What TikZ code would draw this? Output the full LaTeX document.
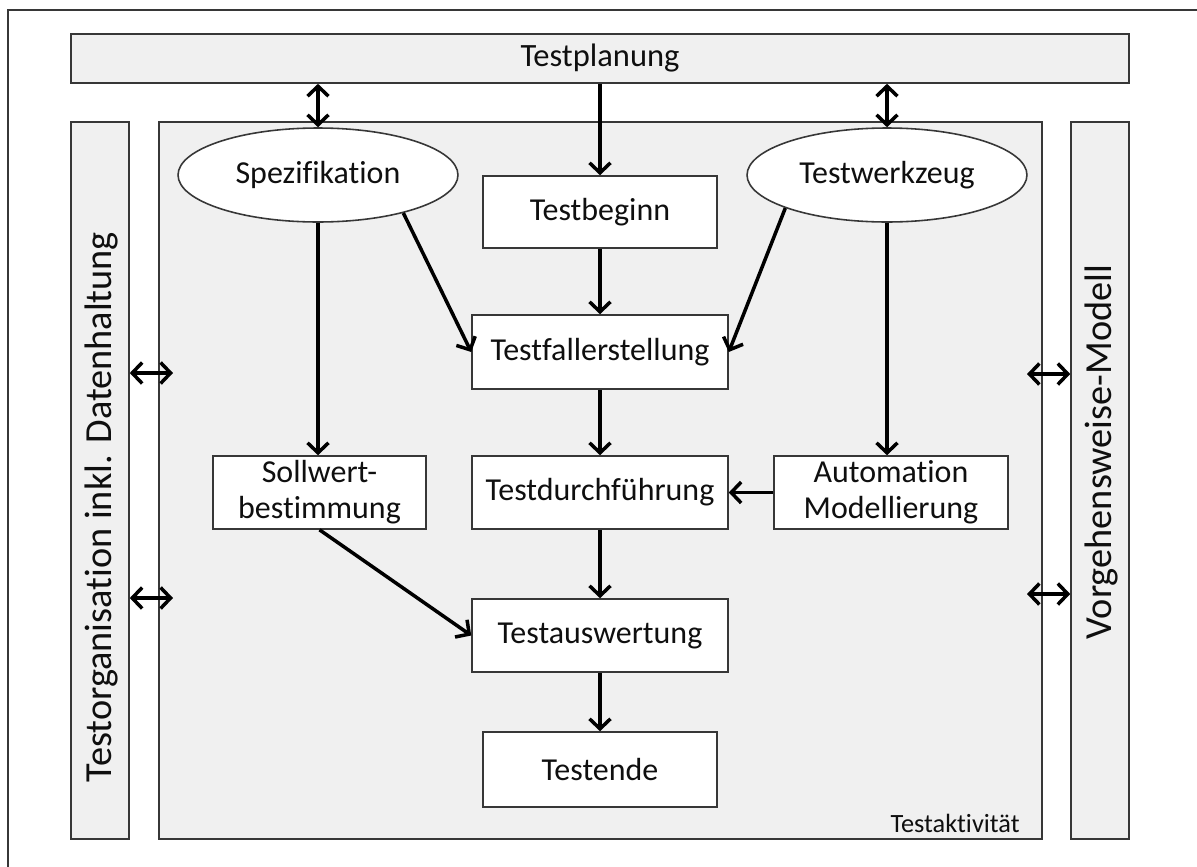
\documentclass[tikz,border=0pt]{standalone}
\usepackage{fontspec}
\setmainfont{Carlito}[Ligatures=NoCommon]
\usetikzlibrary{arrows.meta,shapes.geometric}
\definecolor{panel}{RGB}{240,240,240}
\definecolor{edge}{RGB}{55,55,55}
\definecolor{ink}{RGB}{15,15,15}
\begin{document}
\begin{tikzpicture}[x=0.02cm,y=-0.02cm,
  every node/.style={text=ink,inner sep=0pt},
  panelbox/.style={draw=edge,line width=0.9pt,fill=panel},
  stepbox/.style={draw=edge,line width=0.9pt,fill=white,font=\fontsize{18.2}{20.5}\selectfont,align=center},
  oval/.style={ellipse,draw=edge,line width=0.9pt,fill=white,font=\fontsize{18.2}{20.5}\selectfont,minimum width=5.6cm,minimum height=1.88cm},
  tip/.style={Straight Barb[length=0.2cm,width=0.42cm,line width=2pt]},
  flow/.style={draw=black,line width=2pt,-{Straight Barb[length=0.2cm,width=0.42cm,line width=2pt]}},
  both/.style={draw=black,line width=2pt,{Straight Barb[length=0.2cm,width=0.42cm,line width=2pt]}-{Straight Barb[length=0.2cm,width=0.42cm,line width=2pt]}},
  barlabel/.style={rotate=90,font=\fontsize{21.8}{24}\selectfont}]
\useasboundingbox (0,0) rectangle (1197,866);
\clip (0,0) rectangle (1197,866);
% outer frame
\draw[edge,line width=0.8pt] (8,10) rectangle (1210,880);

% frame panels
\node[panelbox,minimum width=21.16cm,minimum height=0.98cm,font=\fontsize{18.5}{20}\selectfont] (plan) at (600,58.5) {Testplanung};
\node[panelbox,minimum width=1.16cm,minimum height=14.34cm] (lbar) at (100,480.5) {};
\node[barlabel] at (101,507) {Testorganisation inkl. Datenhaltung};
\node[panelbox,minimum width=1.16cm,minimum height=14.34cm] (rbar) at (1100,480.5) {};
\node[barlabel] at (1101,452) {Vorgehensweise-Modell};
\node[panelbox,minimum width=17.66cm,minimum height=14.34cm] (act) at (600.5,480.5) {};
\node[anchor=base east,font=\fontsize{15}{17}\selectfont] (actlabel) at (1020,832) {Testaktivität};

% inputs
\node[oval] (spez) at (318,175) {Spezifikation};
\node[oval] (tw) at (887,175) {Testwerkzeug};

% process steps
\node[stepbox,minimum width=4.68cm,minimum height=1.44cm] (tb) at (600,212) {Testbeginn};
\node[stepbox,minimum width=5.12cm,minimum height=1.48cm] (tf) at (600,352) {Testfallerstellung};
\node[stepbox,minimum width=5.12cm,minimum height=1.46cm] (td) at (600,492.5) {Testdurchführung};
\node[stepbox,minimum width=5.12cm,minimum height=1.46cm] (ta) at (600,635.5) {Testauswertung};
\node[stepbox,minimum width=4.68cm,minimum height=1.50cm] (te) at (600,769.5) {Testende};
\node[stepbox,minimum width=4.26cm,minimum height=1.46cm] (soll) at (319.5,492.5) {Sollwert-\\bestimmung};
\node[stepbox,minimum width=4.68cm,minimum height=1.46cm] (auto) at (891,492.5) {Automation\\Modellierung};

% connections to the planning bar
\draw[both] (spez.north |- plan.south) -- (spez.north);
\draw[flow] (tb.north |- plan.south) -- (tb.north);
\draw[both] (tw.north |- plan.south) -- (tw.north);

% main flow
\draw[flow] (tb) -- (tf);
\draw[flow] (tf) -- (td);
\draw[flow] (td) -- (ta);
\draw[flow] (ta) -- (te);
\draw[flow] (spez.-24) -- (tf.west);
\draw[flow] (tw.198) -- (tf.east);
\draw[flow] (spez.south) -- (spez.south |- soll.north);
\draw[flow] (tw.south) -- (tw.south |- auto.north);
\draw[flow] (auto.west) -- (td.east);
\draw[flow] (soll.south) -- (ta.west);

% side exchanges
\coordinate (l1) at (173,373);
\coordinate (l2) at (173,598);
\coordinate (r1) at (1027,374);
\coordinate (r2) at (1027,594);
\draw[both] (lbar.east |- l1) -- (l1);
\draw[both] (lbar.east |- l2) -- (l2);
\draw[both] (r1) -- (rbar.west |- r1);
\draw[both] (r2) -- (rbar.west |- r2);
\end{tikzpicture}
\end{document}
